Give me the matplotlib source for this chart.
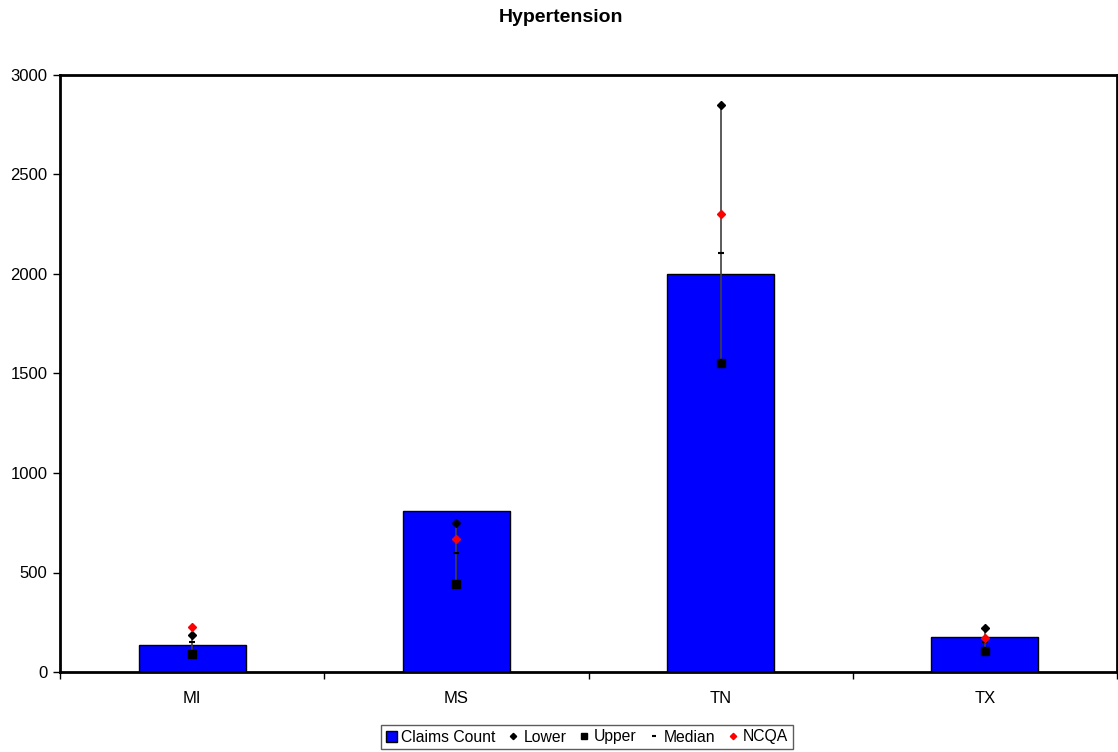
import matplotlib
matplotlib.use("Agg")
import matplotlib.pyplot as plt
import numpy as np

categories = ["MI", "MS", "TN", "TX"]
claims_count = [138, 808, 2000, 174]
lower = [187, 750, 2849, 221]
upper = [90, 442, 1553, 105]
median = [150, 598, 2107, 150]
ncqa = [226, 668, 2301, 172]
y_ticks = [0, 500, 1000, 1500, 2000, 2500, 3000]

plt.rcParams['font.family'] = ['Liberation Sans', 'DejaVu Sans']

fig = plt.figure(figsize=(11.18, 7.52), dpi=100)
ax = fig.add_axes([60/1118, 1 - 672/752, (1117-60)/1118, (672-75)/752])

x = np.arange(len(categories))
h_bar = ax.bar(x, claims_count, width=0.405, color='#0000FF', edgecolor='black', linewidth=1.0,
               label='Claims Count', zorder=2)
ax.vlines(x, upper, lower, color='#404040', linewidth=1.2, zorder=3)
h_low, = ax.plot(x, lower, linestyle='none', marker='D', markersize=4, color='black', label='Lower', zorder=4)
h_up, = ax.plot(x, upper, linestyle='none', marker='s', markersize=5.5, color='black', label='Upper', zorder=4)
h_med, = ax.plot(x, median, linestyle='none', marker='_', markersize=4, markeredgewidth=1.5, color='black', label='Median', zorder=4)
h_ncqa, = ax.plot(x, ncqa, linestyle='none', marker='D', markersize=4, color='red', label='NCQA', zorder=5)

ax.set_xlim(-0.5, len(categories) - 0.5)
ax.set_ylim(0, 3000)
ax.set_yticks(y_ticks)
ax.set_yticklabels([str(v) for v in y_ticks], fontsize=12)
ax.set_xticks(x)
ax.set_xticklabels(categories, fontsize=12)
ax.tick_params(axis='x', which='major', length=0, pad=14)
ax.set_xticks(np.arange(-0.5, len(categories)), minor=True)
ax.tick_params(axis='x', which='minor', length=5, width=1, direction='out')
ax.tick_params(axis='y', length=5, width=1, direction='out', pad=4)
for s in ax.spines.values():
    s.set_linewidth(2)
    s.set_color('black')

fig.text(561/1118, 1 - 17/752, "Hypertension", ha='center', va='center', fontsize=14, fontweight='bold')

leg = fig.legend(handles=[h_bar, h_low, h_up, h_med, h_ncqa],
                 labels=['Claims Count', 'Lower', 'Upper', 'Median', 'NCQA'],
                 loc='center', bbox_to_anchor=(587/1118, 1 - 737/752), ncol=5, fontsize=11.3,
                 frameon=True, fancybox=False, edgecolor='#333333', handlelength=0.7,
                 handletextpad=0.3, columnspacing=0.75, borderpad=0.3, markerscale=0.8)
leg.get_frame().set_linewidth(1)

fig.savefig("out.png", dpi=100)
